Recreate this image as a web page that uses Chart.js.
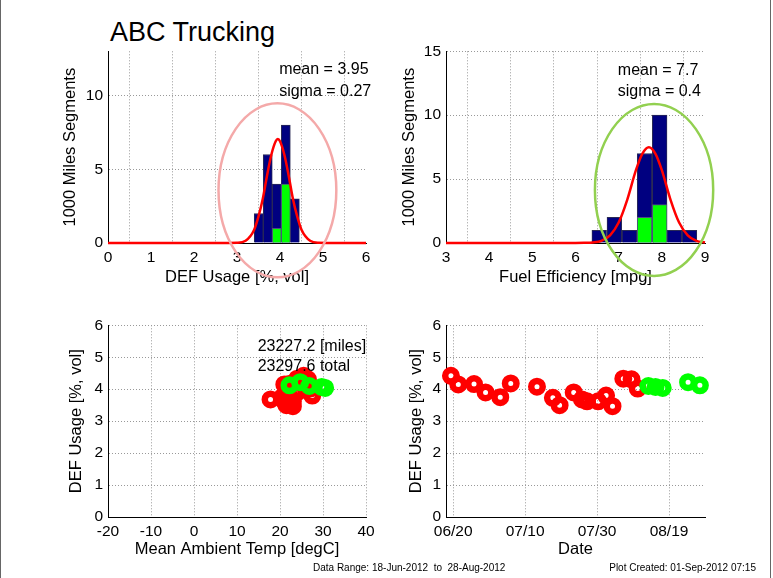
<!DOCTYPE html>
<html>
<head>
  <title>ABC Trucking</title>
  <script src="https://cdn.jsdelivr.net/npm/chart.js"></script>
  <style>
    body { margin: 0; width: 773px; height: 578px; background: #fff; position: relative; overflow: hidden;
           font-family: "Liberation Sans", Arial, sans-serif; }
    canvas { position: absolute; }
    .txt { position: absolute; white-space: pre; color: #000; line-height: 1; }
    .edge { position: absolute; top: 0; width: 1px; height: 578px; background: #666; }
  </style>
</head>
<body>
  <div class="edge" style="left:0"></div>
  <div class="edge" style="left:770px"></div>
  <div class="txt" style="left:110px; top:19px; font-size:27px;">ABC Trucking</div>

  <canvas id="defHist" style="left:40px; top:37px" width="340" height="260"></canvas>
  <canvas id="mpgHist" style="left:378px; top:37px" width="342" height="260"></canvas>
  <canvas id="tempScatter" style="left:40px; top:311px" width="340" height="264"></canvas>
  <canvas id="dateScatter" style="left:378px; top:311px" width="342" height="264"></canvas>

  <div class="txt" style="left:313px; top:563px; font-size:10px;">Data Range: 18-Jun-2012  to  28-Aug-2012</div>
  <div class="txt" style="right:17px; top:563px; font-size:10px;">Plot Created: 01-Sep-2012 07:15</div>

  <script>
    // DEF usage histogram (1000 mile segments)
    const defBinCenters = [3.505, 3.715, 3.925, 4.135, 4.345];
    const defCountsAll = [2, 6, 4, 8, 3];
    const defCountsRecent = [0, 0, 1, 4, 0];
    const defFitX = [0, 2.8, 3.0, 3.2, 3.4, 3.5, 3.6, 3.7, 3.8, 3.9, 3.95, 4.0, 4.1, 4.2, 4.3, 4.4, 4.5, 4.7, 4.9, 5.1, 6];
    const defFitY = [0, 0, 0.01, 0.15, 0.9, 1.8, 3.0, 4.6, 6.0, 6.9, 7.05, 6.9, 6.0, 4.6, 3.0, 1.8, 0.9, 0.15, 0.01, 0, 0];
    const defStats = ['mean = 3.95', 'sigma = 0.27'];

    // fuel efficiency histogram
    const mpgBinCenters = [6.55, 6.90, 7.25, 7.60, 7.95, 8.29, 8.64];
    const mpgCountsAll = [1, 2, 1, 7, 10, 1, 1];
    const mpgCountsRecent = [0, 0, 0, 2, 3, 0, 0];
    const mpgFitX = [3, 6.0, 6.2, 6.4, 6.6, 6.8, 7.0, 7.2, 7.4, 7.55, 7.7, 7.85, 8.0, 8.2, 8.4, 8.6, 8.8, 9.0];
    const mpgFitY = [0, 0, 0.01, 0.04, 0.17, 0.6, 1.6, 3.4, 5.7, 7.0, 7.5, 7.0, 5.7, 3.4, 1.6, 0.6, 0.17, 0.04];
    const mpgStats = ['mean = 7.7', 'sigma = 0.4'];

    // segments, older (red)
    const olderDates = ['2012-06-19 09:00', '2012-06-21 10:00', '2012-06-25 19:00', '2012-06-29 00:00', '2012-07-03 02:00',
      '2012-07-06 00:00', '2012-07-13 07:00', '2012-07-17 17:00', '2012-07-19 14:00', '2012-07-23 12:00',
      '2012-07-25 19:00', '2012-07-27 05:00', '2012-07-30 07:00', '2012-08-01 12:00', '2012-08-03 07:00',
      '2012-08-06 07:00', '2012-08-08 14:00', '2012-08-10 07:00'];
    const olderDef = [4.42, 4.15, 4.16, 3.90, 3.75, 4.18, 4.08, 3.73, 3.50, 3.90, 3.68, 3.62, 3.62, 3.80, 3.47, 4.33, 4.31, 4.02];
    const olderTemp = [25.5, 21.0, 22.1, 23.5, 20.5, 25.0, 26.0, 22.5, 21.5, 24.0, 17.8, 23.0, 21.0, 27.5, 23.0, 24.0, 26.5, 27.0];

    // segments, most recent (green)
    const recentDates = ['2012-08-13 06:00', '2012-08-15 06:00', '2012-08-17 06:00', '2012-08-24 07:00', '2012-08-27 14:00'];
    const recentDef = [4.10, 4.07, 4.04, 4.22, 4.12];
    const recentTemp = [26.8, 29.7, 30.5, 24.7, 22.2];

    const summary = ['23227.2 [miles]', '23297.6 total'];

    // axis ticks
    const defTicksX = [0, 1, 2, 3, 4, 5, 6];
    const defTicksY = [0, 5, 10];
    const mpgTicksX = [3, 4, 5, 6, 7, 8, 9];
    const mpgTicksY = [0, 5, 10, 15];
    const tempTicksX = [-20, -10, 0, 10, 20, 30, 40];
    const usageTicksY = [0, 1, 2, 3, 4, 5, 6];
    const dateTicks = ['2012-06-20 00:00', '2012-07-10 00:00', '2012-07-30 00:00', '2012-08-19 00:00'];
    const dateRange = ['2012-06-18 00:00', '2012-08-29 00:00'];

    const FONT = '"Liberation Sans", Arial, sans-serif';
    const tickFont = { family: FONT, size: 15.5 };
    const titleFont = { family: FONT, size: 16.5 };

    const toTime = s => {
      const [d, t] = s.split(' ');
      const [Y, M, D] = d.split('-').map(Number);
      const [h, m] = t.split(':').map(Number);
      return Date.UTC(Y, M - 1, D, h, m);
    };
    const pad2 = n => String(n).padStart(2, '0');
    const mmdd = v => { const d = new Date(v); return pad2(d.getUTCMonth() + 1) + '/' + pad2(d.getUTCDate()); };

    function axis(min, max, ticks, title, size, titlePad, fmt) {
      return {
        type: 'linear', min: min, max: max, offset: false,
        afterBuildTicks: s => { s.ticks = ticks.map(v => ({ value: v })); },
        afterFit: s => { if (s.isHorizontal()) s.height = size; else s.width = size; },
        ticks: { font: tickFont, color: '#000', padding: 5, maxRotation: 0, autoSkip: false,
                 callback: fmt || (v => String(v)) },
        grid: { color: '#999', lineWidth: 1, drawTicks: false },
        border: { display: true, color: '#000', width: 1, dash: [1, 2] },
        title: { display: true, text: title, font: titleFont, color: '#000', padding: titlePad }
      };
    }

    // text notes and the ellipse, placed in data units
    function notes(lines, ellipse) {
      return {
        id: 'notes',
        afterDatasetsDraw(chart) {
          const { ctx, scales: { x, y } } = chart;
          ctx.save();
          if (ellipse) {
            const cx = x.getPixelForValue(ellipse.cx), cy = y.getPixelForValue(ellipse.cy);
            ctx.beginPath();
            ctx.ellipse(cx, cy,
              Math.abs(x.getPixelForValue(ellipse.cx + ellipse.rx) - cx),
              Math.abs(y.getPixelForValue(ellipse.cy + ellipse.ry) - cy), 0, 0, Math.PI * 2);
            ctx.strokeStyle = ellipse.color;
            ctx.lineWidth = 2.5;
            ctx.stroke();
          }
          ctx.font = '16px ' + FONT;
          ctx.fillStyle = '#000';
          ctx.textAlign = 'left';
          ctx.textBaseline = 'middle';
          lines.forEach(l => ctx.fillText(l.text, x.getPixelForValue(l.x), y.getPixelForValue(l.y)));
          ctx.restore();
        }
      };
    }

    const base = (padRight) => ({
      responsive: false, animation: false, events: [],
      layout: { padding: { top: 10, right: padRight, left: 0, bottom: 0 } },
      plugins: { legend: { display: false }, tooltip: { enabled: false } }
    });

    function histogram(id, centers, all, recent, fitX, fitY, xr, yr, ticksX, ticksY, xTitle, yPad, padRight, stats, ellipse) {
      const pts = (vals) => centers.map((c, i) => ({ x: c, y: vals[i] })).filter(p => p.y > 0);
      new Chart(document.getElementById(id), {
        type: 'bar',
        data: {
          datasets: [
            { type: 'line', data: fitX.map((v, i) => ({ x: v, y: fitY[i] })), borderColor: '#ff0000',
              borderWidth: 2.5, pointRadius: 0, cubicInterpolationMode: 'monotone', clip: false, order: 0 },
            { data: pts(recent), backgroundColor: '#00ff00', borderColor: '#4d4d80', borderWidth: 1,
              grouped: false, barPercentage: 1, categoryPercentage: 1, order: 1 },
            { data: pts(all), backgroundColor: '#000080', borderColor: '#2a2a55', borderWidth: 1,
              grouped: false, barPercentage: 1, categoryPercentage: 1, order: 2 }
          ]
        },
        options: Object.assign(base(padRight), {
          scales: {
            x: axis(xr[0], xr[1], ticksX, xTitle, 54, { bottom: 9.6 }),
            y: axis(yr[0], yr[1], ticksY, '1000 Miles Segments', 68, { top: yPad })
          }
        }),
        plugins: [notes(stats, ellipse)]
      });
    }

    histogram('defHist', defBinCenters, defCountsAll, defCountsRecent, defFitX, defFitY,
      [0, 6], [0, 13], defTicksX, defTicksY, 'DEF Usage [%, vol]', 21, 14,
      [{ text: defStats[0], x: 3.98, y: 11.75 }, { text: defStats[1], x: 3.98, y: 10.3 }],
      { cx: 3.94, cy: 3.57, rx: 1.37, ry: 5.9, color: '#f4a9a9' });

    histogram('mpgHist', mpgBinCenters, mpgCountsAll, mpgCountsRecent, mpgFitX, mpgFitY,
      [3, 9], [0, 15], mpgTicksX, mpgTicksY, 'Fuel Efficiency [mpg]', 22, 15,
      [{ text: mpgStats[0], x: 6.98, y: 13.47 }, { text: mpgStats[1], x: 6.98, y: 11.86 }],
      { cx: 7.82, cy: 4.15, rx: 1.37, ry: 6.73, color: '#92d050' });

    const marker = (color, order) => ({
      showLine: false, pointStyle: 'circle', pointRadius: 5.75, pointBorderWidth: 6.5, pointBorderColor: color,
      pointBackgroundColor: 'rgba(0,0,0,0)', borderColor: color, clip: false, order: order
    });

    new Chart(document.getElementById('tempScatter'), {
      type: 'scatter',
      data: {
        datasets: [
          Object.assign({ data: recentTemp.map((t, i) => ({ x: t, y: recentDef[i] })) }, marker('#00ff00', 0)),
          Object.assign({ data: olderTemp.map((t, i) => ({ x: t, y: olderDef[i] })) }, marker('#ff0000', 1))
        ]
      },
      options: Object.assign(base(14), {
        scales: {
          x: axis(-20, 40, tempTicksX, 'Mean Ambient Temp [degC]', 58, { bottom: 16 }),
          y: axis(0, 6, usageTicksY, 'DEF Usage [%, vol]', 68, { top: 27 })
        }
      }),
      plugins: [notes([{ text: summary[0], x: 14.8, y: 5.33 }, { text: summary[1], x: 14.8, y: 4.72 }])]
    });

    new Chart(document.getElementById('dateScatter'), {
      type: 'scatter',
      data: {
        datasets: [
          Object.assign({ data: recentDates.map((d, i) => ({ x: toTime(d), y: recentDef[i] })) }, marker('#00ff00', 0)),
          Object.assign({ data: olderDates.map((d, i) => ({ x: toTime(d), y: olderDef[i] })) }, marker('#ff0000', 1))
        ]
      },
      options: Object.assign(base(15), {
        scales: {
          x: axis(toTime(dateRange[0]), toTime(dateRange[1]), dateTicks.map(toTime), 'Date', 58, { bottom: 16 }, mmdd),
          y: axis(0, 6, usageTicksY, 'DEF Usage [%, vol]', 68, { top: 29 })
        }
      })
    });
  </script>
</body>
</html>
